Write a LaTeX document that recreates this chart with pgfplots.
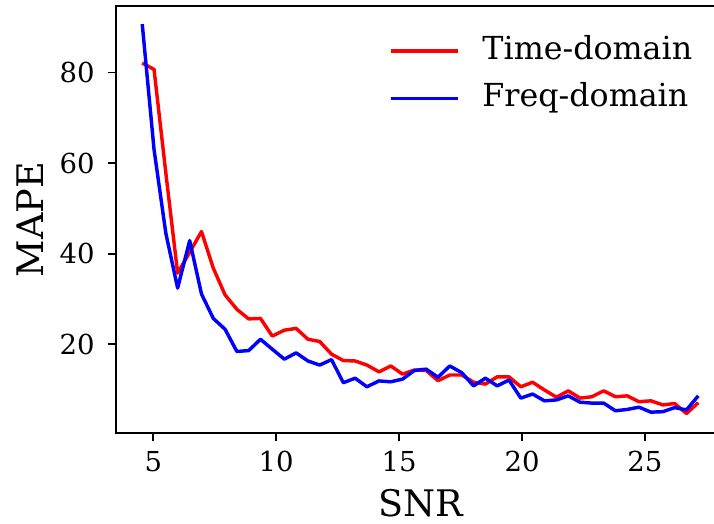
\documentclass[border=0pt]{standalone}
\usepackage{fontspec}
\setmainfont{DejaVu Serif}
\usepackage{pgfplots}
\pgfplotsset{compat=1.18}
\begin{document}
\begin{tikzpicture}
\begin{axis}[
  name=ax, at={(0,0)}, anchor=south west,
  scale only axis, width=305.55pt, height=213.65pt,
  xmin=3.47, xmax=28.33, ymin=0.33, ymax=94.7,
  xtick={5,10,15,20,25}, ytick={20,40,60,80},
  tick pos=left, tick align=outside, major tick length=4pt,
  every tick/.style={black, line width=0.9pt},
  axis line style={line width=0.9pt},
  /pgf/number format/assume math mode=true,
  tick label style={font=\fontsize{13.75}{16}\selectfont, inner sep=0pt},
  xticklabel style={anchor=base, yshift=-15.35pt},
  yticklabel style={anchor=east, xshift=-6.35pt},
  xlabel={SNR}, ylabel={MAPE},
  xlabel style={at={(axis description cs:0.4996,-0.195)}, anchor=base, inner sep=0pt, font=\fontsize{18.3}{22}\selectfont},
  ylabel style={at={(axis description cs:-0.1185,0.5)}, anchor=base, inner sep=0pt, font=\fontsize{18.3}{22}\selectfont},
  legend style={draw=none, fill=none, at={(axis description cs:0.4478,0.932)}, anchor=north west,
    inner sep=0pt, outer sep=0pt, column sep=11.5pt, row sep=7.65pt,
    font=\fontsize{15.85}{19}\selectfont,
    nodes={inner sep=0pt, text height=12pt, text depth=4pt}},
  legend cell align=left,
  legend image code/.code={\draw[#1] (0pt,0pt) -- (33.35pt,0pt);},
]
\addplot[red, line width=1.72pt, line join=round] coordinates {
(4.55,82.1) (5.03,80.7) (5.51,57.8) (5.99,35.7) (6.48,40.3) (6.96,44.9)
(7.44,36.8) (7.92,30.9) (8.40,27.7) (8.88,25.6) (9.36,25.7) (9.84,21.8)
(10.33,23.1) (10.81,23.5) (11.29,21.1) (11.77,20.6) (12.25,17.8) (12.73,16.4)
(13.21,16.3) (13.69,15.4) (14.18,13.9) (14.66,15.2) (15.14,13.4) (15.62,14.3)
(16.10,14.2) (16.58,11.95) (17.06,13.2) (17.55,13.2) (18.03,11.6) (18.51,11.2)
(18.99,12.8) (19.47,12.8) (19.95,10.6) (20.43,11.6) (20.91,9.9) (21.40,8.3)
(21.88,9.7) (22.36,8.1) (22.84,8.4) (23.32,9.7) (23.80,8.4) (24.28,8.6)
(24.76,7.3) (25.24,7.5) (25.73,6.6) (26.21,6.9) (26.69,4.7) (27.17,7.1)
};
\addlegendentry{Time-domain}
\addplot[blue, line width=1.72pt, line join=round] coordinates {
(4.55,90.7) (5.03,63.0) (5.51,44.5) (5.99,32.4) (6.48,42.9) (6.96,31.1)
(7.44,25.7) (7.92,23.3) (8.40,18.4) (8.88,18.6) (9.36,21.1) (9.84,18.9)
(10.33,16.7) (10.81,18.1) (11.29,16.3) (11.77,15.4) (12.25,16.6) (12.73,11.5)
(13.21,12.5) (13.69,10.6) (14.18,11.9) (14.66,11.7) (15.14,12.3) (15.62,14.2)
(16.10,14.5) (16.58,12.7) (17.06,15.2) (17.55,13.7) (18.03,10.8) (18.51,12.5)
(18.99,10.8) (19.47,12.1) (19.95,8.1) (20.43,9.0) (20.91,7.5) (21.40,7.7)
(21.88,8.6) (22.36,7.2) (22.84,7.0) (23.32,7.0) (23.80,5.3) (24.28,5.6)
(24.76,6.1) (25.24,5.0) (25.73,5.1) (26.21,6.0) (26.69,5.5) (27.17,8.6)
};
\addlegendentry{Freq-domain}
\end{axis}
\pgfresetboundingbox
\useasboundingbox (-57.85pt,-45.35pt) rectangle (299.15pt,216.65pt);
\end{tikzpicture}
\end{document}
